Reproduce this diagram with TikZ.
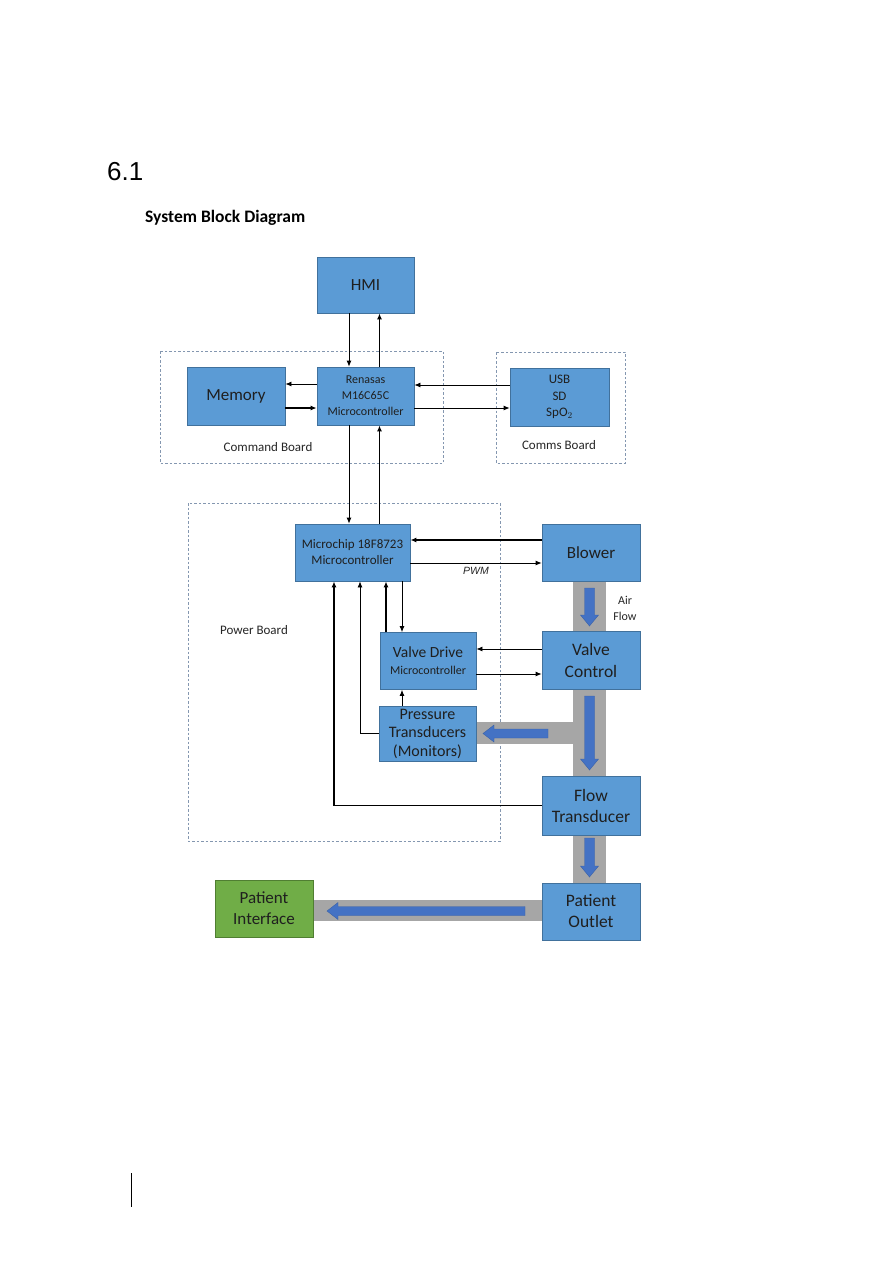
\documentclass[tikz,border=0pt]{standalone}
\usepackage{fontspec}
\setmainfont{Carlito}
\newfontfamily\arialf{Liberation Sans}
\usetikzlibrary{arrows.meta}
\definecolor{boxblue}{HTML}{5B9BD5}
\definecolor{boxedge}{HTML}{41719C}
\definecolor{flowblue}{HTML}{4472C4}
\definecolor{pipegray}{HTML}{A6A6A6}
\definecolor{dashc}{HTML}{8497B0}
\definecolor{pgreen}{HTML}{70AD47}
\definecolor{gedge}{HTML}{507E32}
\newcommand{\downarr}[3]{%
  \filldraw[fill=flowblue,draw=flowblue!85!black,line width=0.4pt]
    ({#1-5},{#2}) -- ({#1+5},{#2}) -- ({#1+5},{#3-11}) -- ({#1+9},{#3-11}) -- ({#1},{#3})
    -- ({#1-9},{#3-11}) -- ({#1-5},{#3-11}) -- cycle;}
\newcommand{\leftarr}[3]{%
  \filldraw[fill=flowblue,draw=flowblue!85!black,line width=0.4pt]
    ({#2},{#1-4.5}) -- ({#2},{#1+4.5}) -- ({#3+11},{#1+4.5}) -- ({#3+11},{#1+8.5}) -- ({#3},{#1})
    -- ({#3+11},{#1-8.5}) -- ({#3+11},{#1-4.5}) -- cycle;}
\begin{document}
\begin{tikzpicture}[x=1pt,y=-1pt,
  blk/.style={draw=boxedge, fill=boxblue, line width=0.8pt, align=center, inner sep=0pt, text=black!88},
  gblk/.style={draw=gedge, fill=pgreen, line width=0.8pt, align=center, inner sep=0pt, text=black!88},
  board/.style={draw=dashc, dash pattern=on 2.5pt off 2pt, line width=0.6pt},
  lbl/.style={text=black!85, font=\fontsize{13}{15}\selectfont},
  thinar/.style={-{Latex[length=6pt,width=5pt]}, line width=0.8pt},
  thickar/.style={-{Latex[length=6pt,width=5pt]}, line width=1.7pt},
  medar/.style={-{Latex[length=6pt,width=5pt]}, line width=1.3pt},
  pipe/.style={fill=pipegray, draw=none}
]
\useasboundingbox (0,0) rectangle (893,1263);
\fill[white] (0,0) rectangle (893,1263);

% heading
\node[anchor=west, font=\arialf\fontsize{26}{30}\selectfont, inner sep=0pt] (sec) at (107,172) {6.1};
\node[anchor=west, font=\bfseries\fontsize{17.5}{20}\selectfont, inner sep=0pt] (title) at (145,218) {System Block Diagram};
\draw[line width=1pt] (131,1173) -- (131,1207);

% boards
\draw[board] (160,351) rectangle (443,463);
\draw[board] (496,352) rectangle (625,463);
\draw[board] (188,503) rectangle (500,841);
\node[lbl] (cmdlbl) at (268,447) {Command Board};
\node[lbl] (comlbl) at (559,445) {Comms Board};
\node[lbl] (pwrlbl) at (254,630) {Power Board};

% pipes
\fill[pipe] (573,581) rectangle (606,631);
\fill[pipe] (573,689) rectangle (606,776);
\fill[pipe] (476,722) rectangle (573,744);
\fill[pipe] (573,835) rectangle (606,883);
\fill[pipe] (313,900) rectangle (542,921);
\downarr{589.5}{588}{626}
\downarr{589.5}{696}{770}
\downarr{589.5}{838}{877}
\leftarr{733.5}{548}{483}
\leftarr{911}{525}{327}

% blocks
\node[blk, minimum width=97pt, minimum height=56pt, font=\fontsize{17}{20}\selectfont] (hmi) at (365.5,285) {HMI};
\node[blk, minimum width=98pt, minimum height=58pt, font=\fontsize{17}{20}\selectfont] (mem) at (236,396) {Memory};
\node[blk, minimum width=97pt, minimum height=58pt, font=\fontsize{12}{16}\selectfont] (ren) at (365.5,396) {Renasas\\M16C65C\\Microcontroller};
\node[blk, minimum width=99pt, minimum height=58pt, font=\fontsize{13}{16.5}\selectfont] (usb) at (559.5,397) {USB\\SD\\SpO$_2$};
\node[blk, minimum width=115pt, minimum height=57pt, font=\fontsize{13}{16}\selectfont] (mc) at (352.5,552.5) {Microchip 18F8723\\Microcontroller};
\node[blk, minimum width=98pt, minimum height=57pt, font=\fontsize{17}{20}\selectfont] (blower) at (591,552.5) {Blower};
\node[blk, minimum width=98pt, minimum height=58pt, font=\fontsize{17.5}{22}\selectfont] (vc) at (591,660) {Valve\\Control};
\node[blk, minimum width=96pt, minimum height=57pt, font=\fontsize{12}{17}\selectfont] (vd) at (428,661) {{\fontsize{15.5}{17}\selectfont Valve Drive}\\{\fontsize{12}{17}\selectfont Microcontroller}};
\node[blk, minimum width=97pt, minimum height=55pt, font=\fontsize{16}{18.5}\selectfont] (pt) at (427.5,733.5) {Pressure\\Transducers\\(Monitors)};
\node[blk, minimum width=98pt, minimum height=59pt, font=\fontsize{17.5}{21}\selectfont] (ft) at (591,805.5) {Flow\\Transducer};
\node[blk, minimum width=98pt, minimum height=57pt, font=\fontsize{17.5}{21}\selectfont] (po) at (591,911.5) {Patient\\Outlet};
\node[gblk, minimum width=98pt, minimum height=57pt, font=\fontsize{17}{21}\selectfont] (pi) at (264,908.5) {Patient\\Interface};

% labels
\node[font=\arialf\itshape\fontsize{10.5}{12}\selectfont, text=black!85] (pwm) at (476,571) {PWM};
\node[lbl, align=center, font=\fontsize{12}{16}\selectfont] (air) at (625,608) {Air\\Flow};

% connectors
\draw[thinar] ([xshift=-16.5pt]hmi.south) -- ([xshift=-16.5pt]ren.north);
\draw[thickar] ([xshift=14pt]ren.north) -- ([xshift=14pt]hmi.south);
\draw[thinar] ([yshift=12pt]ren.west) -- ([yshift=12pt]mem.east);
\draw[medar] ([yshift=-12pt]mem.east) -- ([yshift=-12pt]ren.west);
\draw[thinar] ([yshift=12pt]usb.west) -- ([yshift=12pt]usb.west -| ren.east);
\draw[thinar] ([yshift=-12pt]ren.east) -- ([yshift=-12pt]ren.east -| usb.west);
\draw[thinar] ([xshift=-16.5pt]ren.south) -- ([xshift=-16.5pt]ren.south |- mc.north);
\draw[thickar] ([xshift=14pt]ren.south |- mc.north) -- ([xshift=14pt]ren.south);
\draw[medar] ([yshift=12.5pt]blower.west) -- ([yshift=12.5pt]blower.west -| mc.east);
\draw[thinar] ([yshift=-10.5pt]mc.east) -- ([yshift=-10.5pt]mc.east -| blower.west);
\draw[thinar] ([yshift=11pt]vc.west) -- ([yshift=11pt]vc.west -| vd.east);
\draw[thinar] ([yshift=-13pt]vd.east) -- ([yshift=-13pt]vd.east -| vc.west);
\draw[thinar] ([xshift=-26pt]vd.north |- mc.south) -- ([xshift=-26pt]vd.north);
\draw[thickar] ([xshift=-42pt]vd.north) -- ([xshift=-42pt]vd.north |- mc.south);
\draw[thinar] ([xshift=-26pt]vd.south |- pt.north) -- ([xshift=-26pt]vd.south);
\draw[thinar] (pt.west) -| ([xshift=7.5pt]mc.south);
\draw[medar] (ft.west) -| ([xshift=-18.5pt]mc.south);
\end{tikzpicture}
\end{document}
